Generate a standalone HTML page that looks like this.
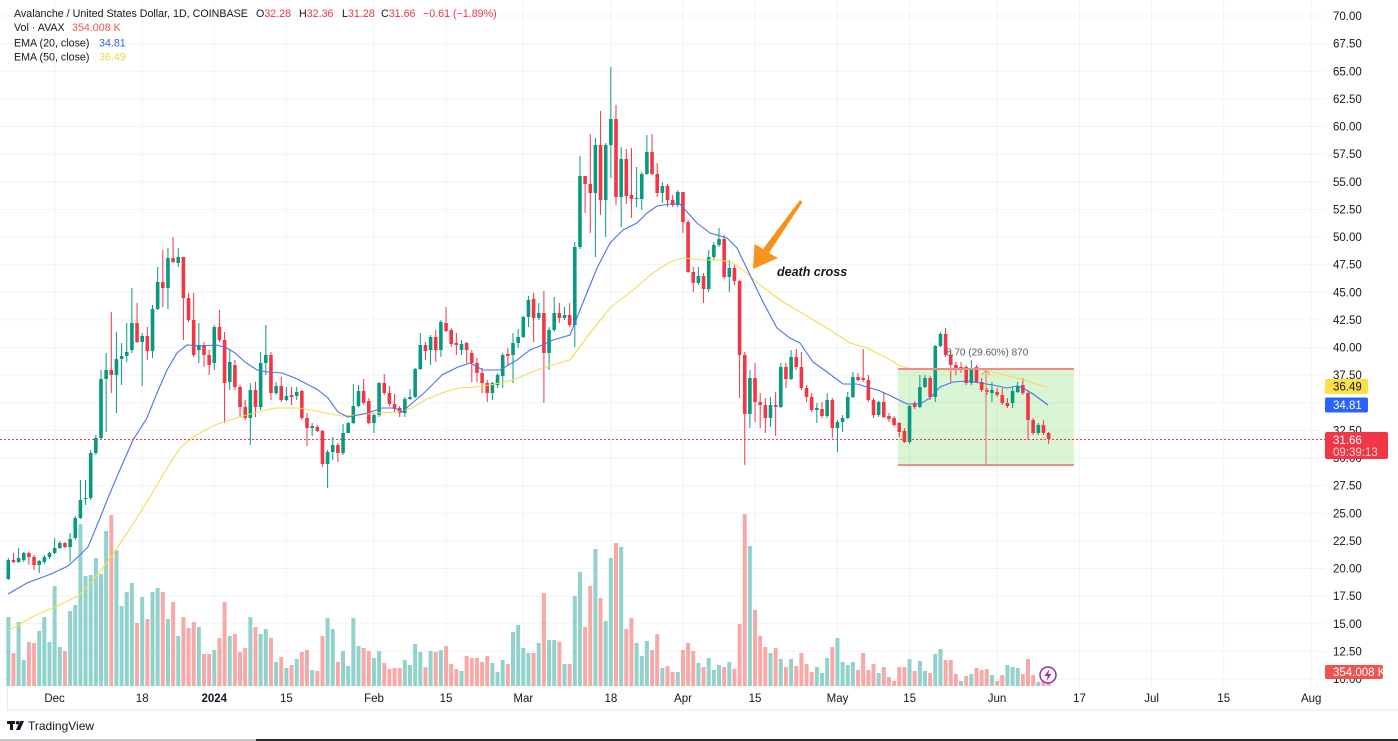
<!DOCTYPE html>
<html><head><meta charset="utf-8">
<style>
html,body{margin:0;padding:0;background:#fff;}
body{width:1398px;height:741px;overflow:hidden;position:relative;font-family:"Liberation Sans",Arial,sans-serif;}
svg{position:absolute;left:0;top:0;}
text{font-family:"Liberation Sans",Arial,sans-serif;}
</style></head><body>
<svg id="s" width="1398" height="741" viewBox="0 0 1398 741" xmlns="http://www.w3.org/2000/svg">
<rect x="0" y="0" width="1398" height="741" fill="#ffffff"/>
<g id="grid"></g>
<g id="vol"></g>
<rect x="898" y="369" width="176" height="96" fill="rgba(80,210,60,0.22)"/>
<g id="cdl"></g>
<polyline fill="none" stroke="#f6dc4e" stroke-width="1.1" points="8,631 34,616 57,606 78,596 91,583 111,557 133,524 150,497 167,468 180,448 193,437 207,429 220,423 240,417 258,412 275,408 298,408 312,410 325,413 342,416 358,415 375,413 398,412 412,408 425,400 442,393 458,388 475,387 490,385 513,380 537,370 553,365 570,360 587,337 610,308 633,290 653,273 670,262 683,258 703,260 720,260 733,263 743,270 760,285 783,302 800,312 827,328 850,343 867,348 887,358 900,366 913,369 947,370 980,369 1013,377 1047,387"/>
<polyline fill="none" stroke="#4a72f0" stroke-width="1.1" points="8,594 27,583 51,574 68,566 81,554 88,547 98,523 110,493 122,465 133,440 147,418 157,393 167,370 177,353 187,345 200,346 217,345 227,348 235,353 245,362 257,370 268,372 282,373 295,378 305,383 318,390 328,398 338,412 348,417 358,415 368,413 382,408 395,408 402,412 410,405 425,392 442,375 458,367 470,363 483,370 500,370 517,360 530,350 540,346 553,340 570,335 580,310 597,268 610,243 623,230 637,223 647,213 657,206 670,204 680,204 687,212 697,223 710,233 727,238 737,248 750,275 763,302 777,328 790,338 800,343 813,362 827,372 843,384 857,384 867,387 880,391 893,397 907,404 920,404 930,398 940,387 953,382 967,381 980,383 993,385 1007,388 1017,386 1023,388 1033,394 1048,405"/>
<line x1="0" y1="439.5" x2="1325" y2="439.5" stroke="#f23645" stroke-width="1" stroke-dasharray="2,2"/>
<!-- measurement box lines -->
<rect x="898" y="368" width="176" height="2" fill="#f28a86"/>
<rect x="898" y="464" width="176" height="2" fill="#f28a86"/>
<line x1="986" y1="465" x2="986" y2="371" stroke="#e8817c" stroke-width="1.2"/>
<polyline points="982,375 986,370 990,375" fill="none" stroke="#f5a25a" stroke-width="1.2"/>
<text x="946" y="355.5" font-size="10" fill="#555a66">8.70 (29.60%) 870</text>
<!-- death cross arrow -->
<polygon points="753,269 754.5,244 763,249 800,200 802.5,202 769,253 778,258" fill="#f7931a"/>
<text x="777" y="276" font-size="12.5" font-weight="bold" font-style="italic" fill="#131722">death cross</text>
<!-- header -->
<text x="14" y="17" font-size="10.7" fill="#131722">Avalanche / United States Dollar, 1D, COINBASE</text>
<text x="256" y="17" font-size="10.7" fill="#131722">O<tspan fill="#f23645">32.28</tspan></text>
<text x="299" y="17" font-size="10.7" fill="#131722">H<tspan fill="#f23645">32.36</tspan></text>
<text x="342" y="17" font-size="10.7" fill="#131722">L<tspan fill="#f23645">31.28</tspan></text>
<text x="381" y="17" font-size="10.7" fill="#131722">C<tspan fill="#f23645">31.66</tspan></text>
<text x="423" y="17" font-size="10.7" fill="#f23645">−0.61 (−1.89%)</text>
<text x="14" y="31" font-size="10.7" fill="#131722">Vol · AVAX</text>
<text x="72" y="31" font-size="10.7" fill="#ef5350">354.008 K</text>
<text x="14" y="46.5" font-size="10.7" fill="#131722">EMA (20, close)</text>
<text x="99" y="46.5" font-size="10.7" fill="#2962ff">34.81</text>
<text x="14" y="60.5" font-size="10.7" fill="#131722">EMA (50, close)</text>
<text x="99" y="60.5" font-size="10.7" fill="#f5d63c">36.49</text>
<!-- price axis -->
<g font-size="11.5" fill="#131722">
<text x="1333" y="20">70.00</text>
<text x="1333" y="47.6">67.50</text>
<text x="1333" y="75.3">65.00</text>
<text x="1333" y="102.9">62.50</text>
<text x="1333" y="130.5">60.00</text>
<text x="1333" y="158.1">57.50</text>
<text x="1333" y="185.8">55.00</text>
<text x="1333" y="213.4">52.50</text>
<text x="1333" y="241">50.00</text>
<text x="1333" y="268.6">47.50</text>
<text x="1333" y="296.3">45.00</text>
<text x="1333" y="323.9">42.50</text>
<text x="1333" y="351.5">40.00</text>
<text x="1333" y="379.1">37.50</text>
<text x="1333" y="406.8">35.00</text>
<text x="1333" y="434.4">32.50</text>
<text x="1333" y="462">30.00</text>
<text x="1333" y="489.6">27.50</text>
<text x="1333" y="517.3">25.00</text>
<text x="1333" y="544.9">22.50</text>
<text x="1333" y="572.5">20.00</text>
<text x="1333" y="600.1">17.50</text>
<text x="1333" y="627.8">15.00</text>
<text x="1333" y="655.4">12.50</text>
<text x="1333" y="683">10.00</text>
</g>
<rect x="1325" y="379" width="43" height="15" rx="2" fill="#fde047"/>
<text x="1333" y="390.5" font-size="11.5" fill="#131722">36.49</text>
<rect x="1325" y="397.5" width="43" height="15" rx="2" fill="#2962ff"/>
<text x="1333" y="409" font-size="11.5" fill="#ffffff">34.81</text>
<rect x="1325" y="432" width="63" height="27" rx="2" fill="#f23645"/>
<text x="1333" y="444" font-size="11.5" fill="#ffffff">31.66</text>
<text x="1333" y="456" font-size="11.5" fill="#ffd5d8">09:39:13</text>
<rect x="1325" y="665" width="58" height="14" rx="2" fill="#ef5350"/>
<text x="1333" y="676" font-size="11.5" fill="#ffffff">354.008 K</text>
<!-- time axis -->
<rect x="7" y="709.5" width="1391" height="1" fill="#e6e8ee"/>
<rect x="7" y="686" width="1" height="24" fill="#e6e8ee"/>
<g font-size="11.5" fill="#131722" text-anchor="middle">
<text x="54.6" y="702">Dec</text>
<text x="142.2" y="702">18</text>
<text x="214.3" y="702" font-weight="bold">2024</text>
<text x="286.4" y="702">15</text>
<text x="374" y="702">Feb</text>
<text x="446" y="702">15</text>
<text x="523.3" y="702">Mar</text>
<text x="610.9" y="702">18</text>
<text x="683" y="702">Apr</text>
<text x="755" y="702">15</text>
<text x="837.5" y="702">May</text>
<text x="909.6" y="702">15</text>
<text x="997" y="702">Jun</text>
<text x="1079.5" y="702">17</text>
<text x="1151.6" y="702">Jul</text>
<text x="1223.7" y="702">15</text>
<text x="1311.2" y="702">Aug</text>
</g>
<!-- lightning icon -->
<circle cx="1048" cy="675" r="8" fill="#ffffff" stroke="#9c27b0" stroke-width="1.5"/>
<polygon points="1049.5,669 1044.5,676 1047.8,676 1046.5,681 1051.5,674 1048.2,674" fill="#9c27b0"/>
<!-- footer logo -->
<rect x="7" y="721" width="8" height="3" fill="#131722"/>
<rect x="10" y="721" width="3" height="9" fill="#131722"/>
<circle cx="17.5" cy="722.7" r="1.7" fill="#131722"/>
<polygon points="20,721 24,721 20,730 16,730" fill="#131722"/>
<text x="28" y="730" font-size="12" fill="#131722">TradingView</text>
<rect x="0" y="739" width="256" height="2" fill="#c9c9c9"/>
<rect x="256" y="739" width="1142" height="2" fill="#2a2a2a"/>
</svg>
<script>
(function(){
var NS='http://www.w3.org/2000/svg';
function el(t,a,p){var e=document.createElementNS(NS,t);for(var k in a)e.setAttribute(k,a[k]);p.appendChild(e);return e;}
var C=[[1,560,579,558,580],[0,560,562,553,563],[1,558,562,548,563],[1,553,560,552,562],[0,553,557,552,565],[0,557,565,555,570],[1,561,565,560,573],[1,557,562,555,564],[1,553,557,552,559],[1,548,553,538,554],
[1,543,548,541,549],[0,543,547,542,548],[1,539,547,533,562],[1,518,538,516,540],[1,500,518,480,519],[1,498,499,480,505],[1,453,498,450,500],[1,438,453,435,455],[1,379,438,370,440],[1,370,379,353,432],
[0,370,375,312,393],[1,359,375,332,413],[1,356,359,343,385],[1,352,356,323,362],[1,323,350,288,353],[0,323,342,303,343],[1,336,342,333,386],[0,336,351,327,360],[1,309,351,305,358],[1,282,309,267,310],
[0,282,288,250,307],[1,258,288,248,309],[0,258,262,237,263],[1,257,263,248,267],[0,257,298,257,340],[0,298,320,293,322],[0,320,355,293,357],[1,345,350,323,363],[0,345,355,342,367],[0,355,365,350,375],
[1,327,363,325,370],[0,327,340,310,342],[0,340,383,332,423],[1,362,382,350,390],[0,365,387,360,390],[0,387,407,385,417],[0,407,418,400,420],[1,390,418,383,445],[0,390,407,382,417],[1,363,407,352,410],
[1,355,363,325,375],[0,355,393,352,400],[1,386,393,382,395],[0,386,400,377,402],[1,396,400,387,401],[0,395,397,387,405],[1,392,396,387,400],[0,391,418,390,420],[0,418,428,413,446],[1,426,428,423,436],
[0,427,431,425,432],[0,431,464,430,467],[1,452,464,450,488],[1,445,452,437,460],[0,445,453,443,462],[1,433,453,424,455],[1,423,433,422,433],[1,406,423,384,424],[1,391,406,385,407],[0,391,403,379,405],
[0,401,423,398,424],[1,415,423,413,433],[1,383,415,382,417],[0,383,393,374,395],[0,393,404,386,406],[0,404,409,394,412],[0,408,413,406,417],[1,399,413,397,417],[1,397,399,389,400],[1,369,397,368,398],
[1,345,369,333,370],[0,345,351,342,360],[1,337,350,335,365],[0,337,350,330,362],[1,322,350,320,357],[0,323,331,307,332],[0,330,344,328,347],[0,343,345,333,355],[1,344,350,340,355],[0,343,350,342,363],
[0,353,363,350,382],[0,363,373,358,382],[0,373,383,368,393],[0,383,393,380,402],[1,383,393,382,400],[1,375,385,373,388],[1,355,376,353,388],[0,354,356,348,366],[1,343,355,333,383],[1,337,343,329,348],
[1,317,337,316,338],[1,300,317,296,327],[0,299,318,293,342],[1,313,318,303,320],[0,313,353,291,403],[1,330,353,327,370],[1,313,330,297,332],[0,313,318,303,323],[1,315,318,307,320],[0,315,325,303,327],
[1,247,325,242,347],[1,176,247,156,249],[0,176,184,176,213],[0,184,193,134,233],[1,145,193,138,257],[0,145,200,111,215],[1,145,200,143,237],[1,119,145,67,178],[0,119,197,105,205],[1,159,197,147,227],
[0,159,196,149,204],[0,195,199,148,218],[1,198,199,167,207],[1,174,199,172,210],[1,152,174,135,175],[0,152,174,134,175],[0,174,193,163,197],[1,186,193,182,203],[0,186,200,184,207],[0,200,205,195,207],
[1,192,205,190,207],[0,192,222,192,233],[0,222,272,220,273],[0,272,283,267,292],[1,276,283,267,285],[0,276,289,273,303],[1,257,289,250,292],[1,245,257,242,260],[1,239,245,228,247],[0,239,277,235,279],
[1,268,277,260,292],[0,268,281,265,285],[0,281,355,280,398],[0,355,414,352,465],[1,378,414,370,428],[0,378,402,363,422],[0,402,405,393,428],[0,405,418,398,433],[1,405,418,397,427],[0,405,407,392,436],
[1,367,407,363,408],[0,367,379,363,388],[1,357,379,350,380],[0,357,367,349,370],[0,367,388,352,390],[0,388,397,385,402],[0,397,410,393,412],[1,408,410,403,423],[0,409,416,402,418],[1,400,416,393,418],
[0,400,428,398,438],[1,422,428,420,452],[1,418,422,415,432],[1,397,418,392,419],[1,377,397,372,398],[0,377,380,373,381],[0,378,380,349,382],[0,380,400,375,402],[0,400,415,398,418],[1,402,415,401,417],
[0,402,417,392,418],[0,416,419,413,422],[0,418,425,416,427],[0,423,432,422,437],[0,431,442,428,443],[1,406,442,405,444],[0,403,407,401,409],[1,387,407,375,408],[1,378,387,375,388],[0,378,397,376,400],
[1,346,397,345,402],[1,334,346,332,347],[0,334,355,328,357],[0,355,365,350,382],[0,365,370,362,375],[0,367,370,362,373],[0,367,383,365,385],[1,368,383,360,385],[0,367,382,365,383],[0,382,390,378,392],
[0,390,392,388,395],[1,390,393,382,402],[0,392,395,388,397],[0,395,403,388,405],[0,403,406,398,408],[1,391,403,387,408],[1,386,392,382,393],[0,385,393,378,395],[0,393,420,390,440],[0,420,433,418,435],
[1,425,433,423,435],[0,425,433,420,435],[0,433,439,432,444]];
var V=[[1,617],[0,653],[1,622],[1,660],[0,642],[0,643],[1,631],[1,617],[1,642],[1,586],
[1,647],[0,651],[1,611],[1,605],[1,524],[1,576],[1,575],[1,558],[1,574],[1,531],
[0,515],[1,550],[1,606],[1,592],[1,583],[0,623],[1,597],[0,619],[1,592],[1,588],
[0,592],[1,619],[0,602],[1,636],[0,617],[0,628],[0,622],[1,627],[0,654],[0,654],
[1,650],[0,638],[0,602],[1,636],[0,634],[0,652],[0,648],[1,617],[0,627],[1,634],
[1,629],[0,638],[1,662],[0,657],[1,668],[0,665],[1,659],[0,652],[0,650],[1,670],
[0,671],[0,636],[1,618],[1,629],[0,662],[1,651],[1,666],[1,618],[1,646],[0,648],
[0,651],[1,658],[1,651],[0,663],[0,669],[0,668],[0,668],[1,660],[1,665],[1,644],
[1,652],[0,667],[1,651],[0,652],[1,650],[0,646],[0,664],[0,669],[1,671],[0,656],
[0,658],[0,658],[0,662],[0,656],[1,663],[1,672],[1,660],[0,664],[1,632],[1,625],
[1,648],[1,653],[0,653],[1,643],[0,593],[1,640],[1,640],[0,642],[1,664],[0,664],
[1,596],[1,572],[0,627],[0,586],[1,549],[0,598],[1,621],[1,558],[0,543],[1,547],
[0,629],[0,618],[1,643],[1,656],[1,641],[0,650],[0,634],[1,668],[0,666],[0,672],
[1,672],[0,650],[0,643],[0,651],[1,663],[0,667],[1,658],[1,670],[1,665],[0,667],
[1,662],[0,669],[0,624],[0,514],[1,546],[0,610],[0,636],[0,647],[1,653],[0,648],
[1,659],[0,667],[1,659],[0,666],[0,653],[0,664],[0,672],[1,667],[1,673],[1,658],
[0,647],[1,638],[1,662],[1,665],[1,662],[0,670],[0,653],[0,670],[0,664],[1,673],
[0,667],[0,677],[0,681],[0,667],[0,667],[1,659],[0,671],[1,661],[1,671],[0,673],
[1,654],[1,649],[0,660],[0,660],[0,674],[1,681],[0,676],[1,674],[0,668],[0,670],
[0,669],[1,675],[0,681],[0,675],[1,665],[1,667],[1,668],[0,674],[0,659],[0,675],
[1,682],[0,672],[0,680]];
var g=document.getElementById('grid');
for(var k=0;k<25;k++){var y=16+k*27.625;el('rect',{x:0,y:(y-0.5).toFixed(2),width:1325,height:1,fill:'#f1f3f7'},g);}
var xs=[9,26,40,54,71,85,100,117,131,145,161,175,192,208,222,236,253];
for(var j=0;j<xs.length;j++){var x=8.3+5.15*xs[j];el('rect',{x:(x-0.5).toFixed(2),y:0,width:1,height:686,fill:'#f1f3f7'},g);}
var vg=document.getElementById('vol');
for(var i=0;i<V.length;i++){var cx=8.3+5.15*i;el('rect',{x:(cx-2).toFixed(2),y:V[i][1],width:4,height:686-V[i][1],fill:V[i][0]?'#92d2cc':'#f7a9a7'},vg);}
var cg=document.getElementById('cdl');
for(var i=0;i<C.length;i++){var c=C[i],cx=8.3+5.15*i,col=c[0]?'#089981':'#f23645';
el('rect',{x:(cx-0.5).toFixed(2),y:c[3],width:1,height:Math.max(1,c[4]-c[3]),fill:col},cg);
el('rect',{x:(cx-1.8).toFixed(2),y:c[1],width:3.6,height:Math.max(1,c[2]-c[1]),fill:col},cg);}
})();
</script>
</body></html>
